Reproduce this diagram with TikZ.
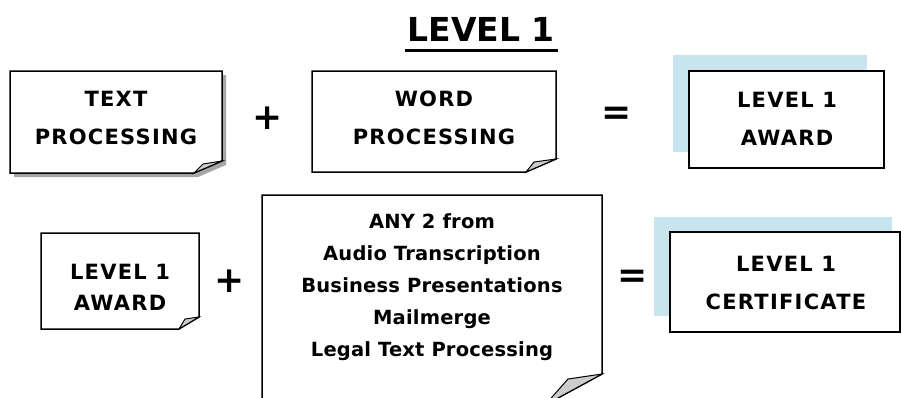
\documentclass[tikz,border=0pt]{standalone}
\usepackage{fontspec}
\setmainfont{DejaVu Sans}
\definecolor{paleblue}{RGB}{200,228,236}
\begin{document}
\begin{tikzpicture}[x=1pt, y=-1pt, line width=1.5pt,
		cardtext/.style={inner sep=0pt, align=center, font=\bfseries\fontsize{21}{38}\selectfont\addfontfeature{LetterSpace=6}},
		listtext/.style={inner sep=0pt, align=center, font=\bfseries\fontsize{19.5}{32}\selectfont\addfontfeature{LetterSpace=1}},
		sign/.style={inner sep=0pt, font=\bfseries\fontsize{36}{36}\selectfont},
		curl/.style={fill=gray!40, draw=black, line width=1pt}]
		\useasboundingbox (0, 0) rectangle (901, 397);
		\clip (0, 0) rectangle (901, 397);
		% title
		\node[inner sep=0pt, font=\bfseries\fontsize{33}{33}\selectfont] (title) at (481, 29) {LEVEL 1};
		\draw[line width=3pt] (405, 50) -- (558, 50);
		
		% row 1
		\fill[gray!70] (14, 75) -- (226, 75) -- (226, 165) -- (198, 177) -- (14, 177) -- cycle;
		\draw[fill=white] (10, 71) -- (222, 71) -- (222, 161) -- (194, 173) -- (10, 173) -- cycle;
		\draw[curl] (222, 161) .. controls (212, 162) .. (203, 164) -- (194, 173) -- cycle;
		\node[cardtext] (text) at (116, 118) {TEXT\\PROCESSING};
		\node[sign] (plusA) at (268, 118) {+};
		\draw[fill=white] (312, 71) -- (556, 71) -- (556, 159) -- (526, 172) -- (312, 172) -- cycle;
		\draw[curl] (556, 159) .. controls (545, 160) .. (534, 162) -- (526, 172) -- cycle;
		\node[cardtext] (word) at (434, 118) {WORD\\PROCESSING};
		\node[sign] (equalA) at (617, 116) {=};
		\fill[paleblue] (673, 55) rectangle (867, 152);
		\draw[fill=white] (689, 71) rectangle (884, 168);
		\node[cardtext] (award) at (787, 119) {LEVEL 1\\AWARD};
		
		% row 2
		\draw[fill=white] (41, 233) -- (199, 233) -- (199, 317) -- (179, 329) -- (41, 329) -- cycle;
		\draw[curl] (199, 317) .. controls (192, 318) .. (185, 319) -- (179, 329) -- cycle;
		\node[cardtext, font=\bfseries\fontsize{21}{31}\selectfont\addfontfeature{LetterSpace=6}] (prior) at (120, 287) {LEVEL 1\\AWARD};
		\node[sign] (plusB) at (230, 281) {+};
		\draw[fill=white] (262, 195) -- (602, 195) -- (602, 374) -- (545, 405) -- (262, 405) -- cycle;
		\draw[curl] (602, 374) .. controls (585, 376) .. (568, 379) -- (545, 405) -- cycle;
		\node[listtext] (options) at (432, 287) {ANY 2 from\\Audio Transcription\\Business Presentations\\Mailmerge\\Legal Text Processing};
		\node[sign] (equalB) at (633, 279) {=};
		\fill[paleblue] (654, 217) rectangle (892, 316);
		\draw[fill=white] (670, 232) rectangle (900, 332);
		\node[cardtext] (certificate) at (786, 283) {LEVEL 1\\CERTIFICATE};
	\end{tikzpicture}
\end{document}
